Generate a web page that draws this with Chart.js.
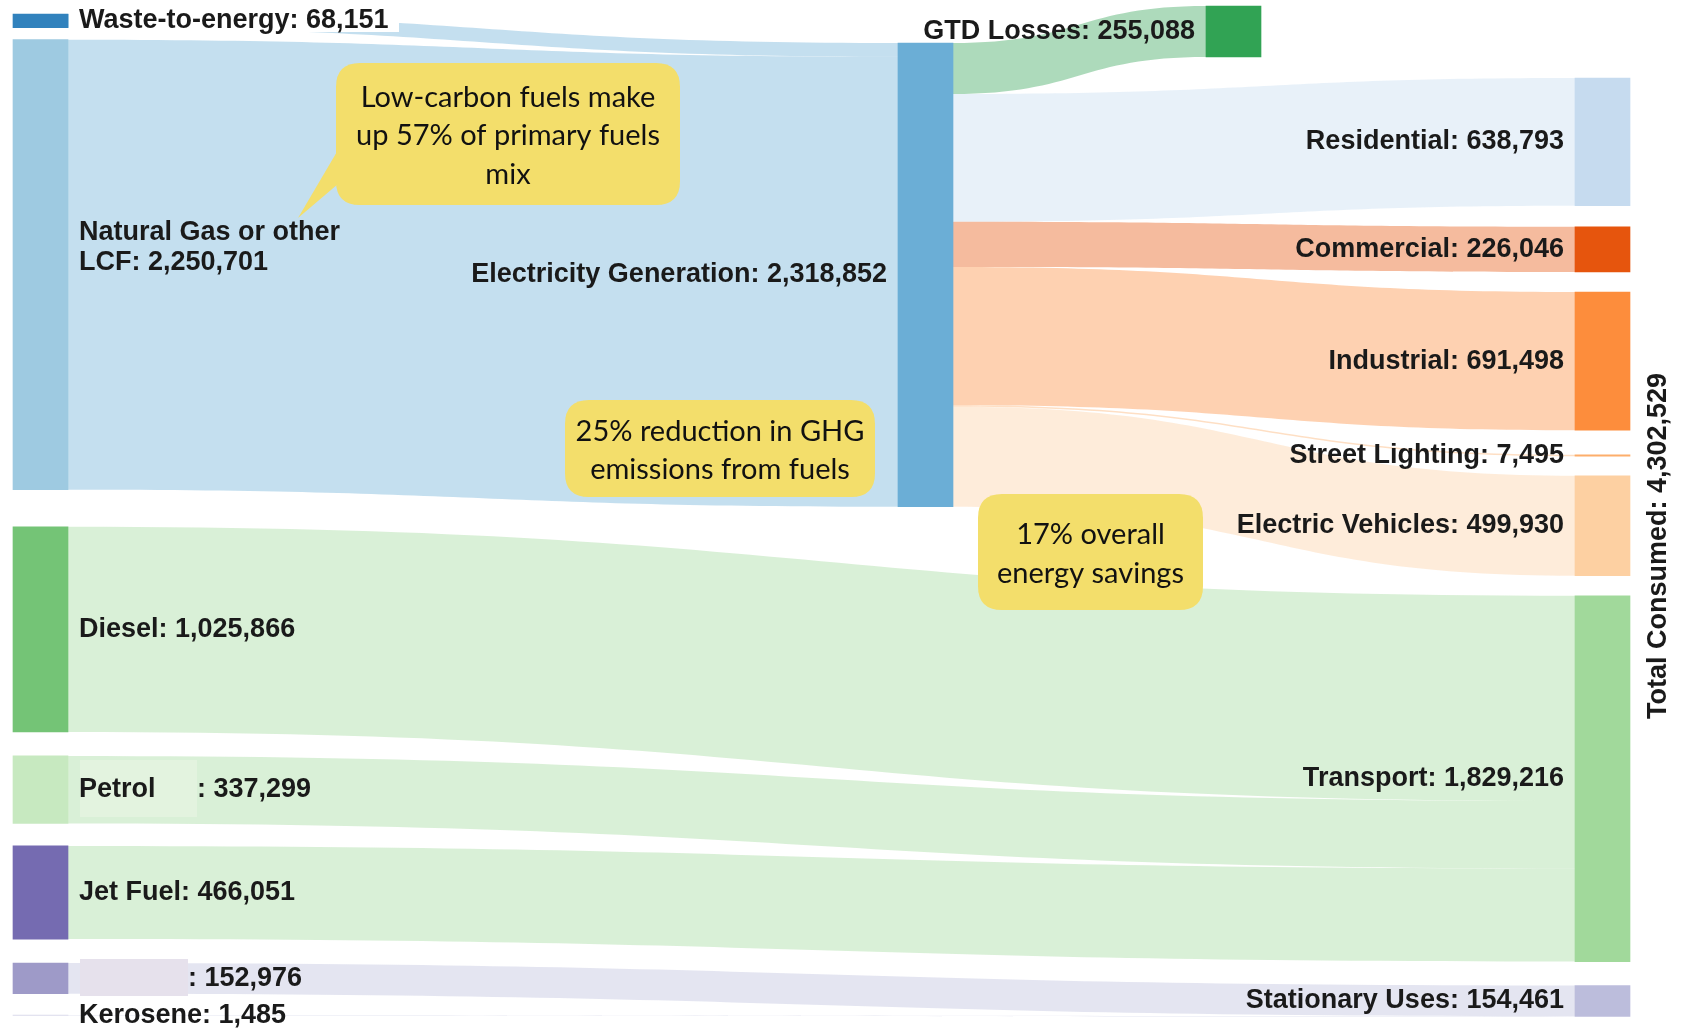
<!DOCTYPE html>
<html lang="en">
<head>
  <meta charset="UTF-8">
  <title>Energy Flow Sankey</title>
  <script src="https://cdn.jsdelivr.net/npm/chart.js"></script>
  <style>
    html, body {
      margin: 0;
      padding: 0;
      background: #ffffff;
    }
    .chart-box {
      position: relative;
      width: 1684px;
      height: 1030px;
    }
  </style>
</head>
<body>
  <div class="chart-box">
    <canvas id="sankeyChart"></canvas>
  </div>

  <script>
    // ---- data ----
    const nodeNames = [
      'Waste-to-energy', 'Natural Gas or other\nLCF', 'Diesel', 'Petrol', 'Jet Fuel', '', 'Kerosene',
      'Electricity Generation', 'GTD Losses',
      'Residential', 'Commercial', 'Industrial', 'Street Lighting', 'Electric Vehicles', 'Transport', 'Stationary Uses'
    ];
    const nodeValues = [
      68151, 2250701, 1025866, 337299, 466051, 152976, 1485,
      2318852, 255088,
      638793, 226046, 691498, 7495, 499930, 1829216, 154461
    ];
    const nodeColumns = [0, 0, 0, 0, 0, 0, 0, 1, 2, 3, 3, 3, 3, 3, 3, 3];

    const linkSources = [0, 1, 7, 7, 7, 7, 7, 7, 2, 3, 4, 5, 6];
    const linkTargets = [7, 7, 8, 9, 10, 11, 12, 13, 14, 14, 14, 15, 15];
    const linkValues = [68151, 2250701, 255088, 638793, 226046, 691498, 7495, 499930, 1025866, 337299, 466051, 152976, 1485];

    const totalConsumed = 4302529;

    const callouts = [
      ['Low-carbon fuels make', 'up 57% of primary fuels', 'mix'],
      ['25% reduction in GHG', 'emissions from fuels'],
      ['17% overall', 'energy savings']
    ];

    // ---- layout & style ----
    const UNITS_PER_PX = 5000;
    const NODE_W = 55;
    const columnX = [13, 898, 1206, 1575];
    // space (px) left above each node inside its column
    const gapBefore = [14, 12, 37, 24, 22.5, 24, 21.4, 43, 6, 78, 21, 20, 24.5, 19.5, 20, 24];
    // vertical nudge (px) for a few labels
    const labelDy = { 1: -17 };

    const nodeColors = [
      '#3182bd', '#9ecae1', '#74c476', '#c7e9c0', '#756bb1', '#9e9ac8', '#dadaeb',
      '#6baed6', '#31a354',
      '#c6dbef', '#e6550d', '#fd8d3c', '#fdae6b', '#fdd0a2', '#a1d99b', '#bcbddc'
    ];
    const LINK_ALPHA = 0.4;
    const LABEL_FONT = 'bold 27px Arial, "Liberation Sans", sans-serif';
    const LABEL_COLOR = '#1a1a1a';

    // label patches seen in the original (cover boxes)
    const labelBoxes = {
      0: { rect: [69, 4, 330, 28], fill: '#ffffff' },
      3: { rect: [80, 760, 117, 57], fill: '#e3f3df', valueX: 197 },
      5: { rect: [80, 959, 108, 37], fill: '#e6e1ec', valueX: 188 }
    };

    const calloutBoxes = [
      { rect: [336, 63, 344, 142], tail: [[338, 150], [298, 218], [338, 184]] },
      { rect: [565, 400, 310, 97] },
      { rect: [978, 494, 225, 116] }
    ];
    const CALLOUT_FILL = '#f3de6b';
    const CALLOUT_FONT = '29px Lato, "Open Sans", sans-serif';

    // ---- node layout (value units) ----
    const nodeTop = [];
    const nodeBottom = [];
    const colCursor = {};
    nodeValues.forEach((v, i) => {
      const c = nodeColumns[i];
      const start = (colCursor[c] || 0) + gapBefore[i] * UNITS_PER_PX;
      nodeTop[i] = start;
      nodeBottom[i] = start + v;
      colCursor[c] = nodeBottom[i];
    });

    // ---- link layout ----
    const links = linkValues.map((v, i) => ({ s: linkSources[i], t: linkTargets[i], v: v }));
    const outOffset = nodeTop.slice();
    const inOffset = nodeTop.slice();
    links.slice().sort((a, b) => nodeTop[a.t] - nodeTop[b.t]).forEach(l => {
      l.sy = outOffset[l.s];
      outOffset[l.s] += l.v;
    });
    links.slice().sort((a, b) => nodeTop[a.s] - nodeTop[b.s]).forEach(l => {
      l.ty = inOffset[l.t];
      inOffset[l.t] += l.v;
    });

    function hexToRgba(hex, a) {
      const n = parseInt(hex.slice(1), 16);
      return `rgba(${(n >> 16) & 255}, ${(n >> 8) & 255}, ${n & 255}, ${a})`;
    }

    function roundRect(ctx, x, y, w, h, r) {
      ctx.beginPath();
      ctx.moveTo(x + r, y);
      ctx.lineTo(x + w - r, y);
      ctx.quadraticCurveTo(x + w, y, x + w, y + r);
      ctx.lineTo(x + w, y + h - r);
      ctx.quadraticCurveTo(x + w, y + h, x + w - r, y + h);
      ctx.lineTo(x + r, y + h);
      ctx.quadraticCurveTo(x, y + h, x, y + h - r);
      ctx.lineTo(x, y + r);
      ctx.quadraticCurveTo(x, y, x + r, y);
      ctx.closePath();
    }

    const sankeyPlugin = {
      id: 'sankeyLinks',
      beforeDatasetsDraw(chart) {
        const { ctx, scales: { x, y } } = chart;
        ctx.save();
        links.forEach(l => {
          const x0 = x.getPixelForValue(columnX[nodeColumns[l.s]] + NODE_W);
          const x1 = x.getPixelForValue(columnX[nodeColumns[l.t]]);
          const mx = (x0 + x1) / 2;
          const s0 = y.getPixelForValue(l.sy);
          const s1 = y.getPixelForValue(l.sy + l.v);
          const t0 = y.getPixelForValue(l.ty);
          const t1 = y.getPixelForValue(l.ty + l.v);
          ctx.beginPath();
          ctx.moveTo(x0, s0);
          ctx.bezierCurveTo(mx, s0, mx, t0, x1, t0);
          ctx.lineTo(x1, t1);
          ctx.bezierCurveTo(mx, t1, mx, s1, x0, s1);
          ctx.closePath();
          ctx.fillStyle = hexToRgba(nodeColors[l.t], LINK_ALPHA);
          ctx.fill();
        });
        ctx.restore();
      },
      afterDatasetsDraw(chart) {
        const { ctx, scales: { x, y } } = chart;
        ctx.save();
        ctx.font = LABEL_FONT;
        ctx.textBaseline = 'middle';
        nodeNames.forEach((name, i) => {
          const col = nodeColumns[i];
          const cy = y.getPixelForValue((nodeTop[i] + nodeBottom[i]) / 2) + (labelDy[i] || 0);
          const valueText = nodeValues[i].toLocaleString('en-US');
          const lines = (name + ': ' + valueText).split('\n');
          const box = labelBoxes[i];
          if (box) {
            ctx.fillStyle = box.fill;
            ctx.fillRect(box.rect[0], box.rect[1], box.rect[2], box.rect[3]);
          }
          ctx.fillStyle = LABEL_COLOR;
          if (col === 0) {
            const lx = x.getPixelForValue(columnX[col] + NODE_W) + 11;
            ctx.textAlign = 'left';
            if (box && box.valueX) {
              if (name) ctx.fillText(name, lx, cy);
              ctx.fillText(': ' + valueText, box.valueX, cy);
            } else {
              const lh = 30;
              lines.forEach((ln, k) => {
                ctx.fillText(ln, lx, cy + (k - (lines.length - 1) / 2) * lh);
              });
            }
          } else {
            const lx = x.getPixelForValue(columnX[col]) - 11;
            ctx.textAlign = 'right';
            ctx.fillText(lines.join(' '), lx, cy);
          }
        });

        // total consumed, vertical on the far right
        ctx.save();
        ctx.translate(1659, 546);
        ctx.rotate(-Math.PI / 2);
        ctx.textAlign = 'center';
        ctx.fillText('Total Consumed: ' + totalConsumed.toLocaleString('en-US'), 0, 0);
        ctx.restore();

        // yellow callouts
        callouts.forEach((lines, i) => {
          const cb = calloutBoxes[i];
          const [bx, by, bw, bh] = cb.rect;
          ctx.fillStyle = CALLOUT_FILL;
          if (cb.tail) {
            ctx.beginPath();
            ctx.moveTo(cb.tail[0][0], cb.tail[0][1]);
            ctx.lineTo(cb.tail[1][0], cb.tail[1][1]);
            ctx.lineTo(cb.tail[2][0], cb.tail[2][1]);
            ctx.closePath();
            ctx.fill();
          }
          roundRect(ctx, bx, by, bw, bh, 24);
          ctx.fill();
          ctx.fillStyle = '#111111';
          ctx.font = CALLOUT_FONT;
          ctx.textAlign = 'center';
          const lh = 38.5;
          lines.forEach((ln, k) => {
            ctx.fillText(ln, bx + bw / 2, by + bh / 2 + 2 + (k - (lines.length - 1) / 2) * lh);
          });
        });
        ctx.restore();
      }
    };

    new Chart(document.getElementById('sankeyChart'), {
      type: 'bar',
      data: {
        datasets: [{
          data: nodeValues.map((v, i) => ({
            x: columnX[nodeColumns[i]] + NODE_W / 2,
            y: [nodeTop[i], nodeBottom[i]]
          })),
          backgroundColor: nodeColors,
          barThickness: NODE_W,
          borderWidth: 0
        }]
      },
      options: {
        responsive: true,
        maintainAspectRatio: false,
        animation: false,
        layout: { padding: 0 },
        plugins: {
          legend: { display: false },
          tooltip: { enabled: false }
        },
        scales: {
          x: { type: 'linear', min: 0, max: 1684, offset: false, display: false },
          y: { type: 'linear', min: 0, max: 1030 * UNITS_PER_PX, reverse: true, display: false }
        }
      },
      plugins: [sankeyPlugin]
    });
  </script>
</body>
</html>
